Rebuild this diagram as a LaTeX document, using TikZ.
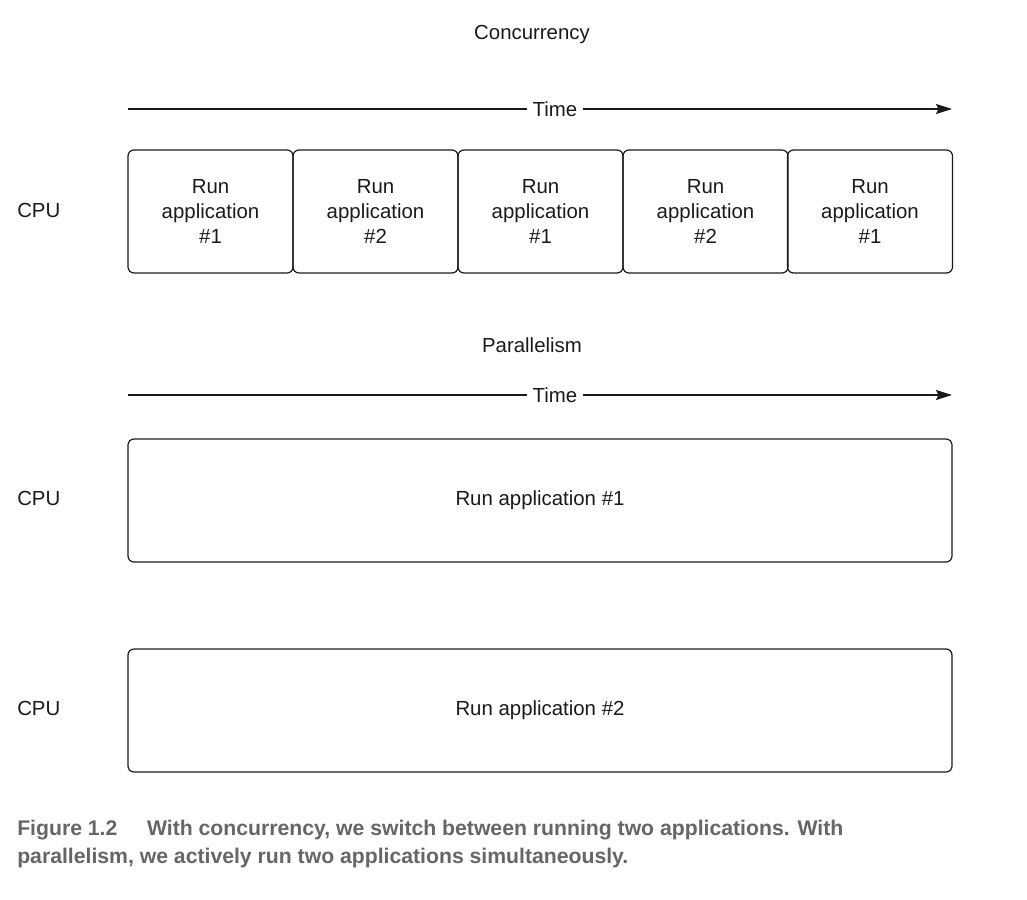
\documentclass[tikz,border=0pt]{standalone}
\usepackage{fontspec}
\setmainfont{Liberation Sans}
\usetikzlibrary{arrows.meta}
\definecolor{ink}{HTML}{1A1A1A}
\definecolor{capgray}{HTML}{666666}
\tikzset{
  txt/.style={font=\fontsize{15.3}{18.4}\selectfont, text=ink},
  lbl/.style={txt, inner sep=0pt},
  appbox/.style={txt, draw=ink, line width=0.9pt, rounded corners=4.5pt, minimum width=123.75pt, minimum height=92.25pt, align=center, inner sep=0pt},
  widebox/.style={appbox, minimum width=618pt},
  timearrow/.style={draw=ink, line width=0.9pt, -{Stealth[length=12pt,width=7.5pt,inset=1.8pt]}},
  timelbl/.style={lbl, fill=white, inner xsep=4pt, inner ysep=2pt},
  captxt/.style={anchor=west, inner sep=0pt, text=capgray, font=\bfseries\fontsize{15.9}{21}\selectfont},
}
\begin{document}
\begin{tikzpicture}[x=0.75pt,y=-0.75pt]
\useasboundingbox (0,0) rectangle (1027,899);
% Concurrency
\node[lbl] (conc) at (532,34) {Concurrency};
\coordinate (t1s) at (128,109);
\coordinate (t1e) at (952,109);
\draw[timearrow] (t1s) -- (t1e);
\node[timelbl] (time1) at (555,109) {Time};
\node[lbl, anchor=west] (cpu1) at (17,210) {CPU};
\node[appbox] (b1) at (210.5,211.5) {Run\\application\\\#1};
\node[appbox] (b2) at (375.5,211.5) {Run\\application\\\#2};
\node[appbox] (b3) at (540.5,211.5) {Run\\application\\\#1};
\node[appbox] (b4) at (705.5,211.5) {Run\\application\\\#2};
\node[appbox] (b5) at (870,211.5) {Run\\application\\\#1};
% Parallelism
\node[lbl] (par) at (532,345) {Parallelism};
\coordinate (t2s) at (128,395);
\coordinate (t2e) at (952,395);
\draw[timearrow] (t2s) -- (t2e);
\node[timelbl] (time2) at (555,395) {Time};
\node[lbl, anchor=west] (cpu2) at (17,498) {CPU};
\node[widebox] (p1) at (540,500.5) {Run application \#1};
\node[lbl, anchor=west] (cpu3) at (17,708) {CPU};
\node[widebox] (p2) at (540,710.5) {Run application \#2};
% Caption
\node[captxt] (cap1) at (17,830) {Figure 1.2\hspace{1.4em}With concurrency, we switch between running two applications. With};
\node[captxt] (cap2) at (17,858) {parallelism, we actively run two applications simultaneously.};
\end{tikzpicture}
\end{document}
